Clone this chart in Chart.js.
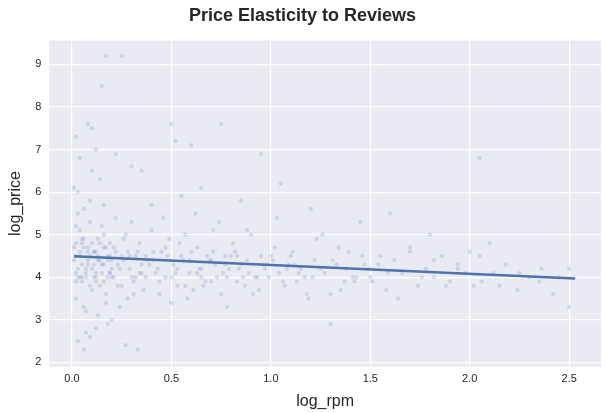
<!DOCTYPE html>
<html><head>
<script src="https://cdn.jsdelivr.net/npm/chart.js@4"></script>
<style>body{margin:0;background:#fff}#wrap{width:607px;height:413px}</style>
</head><body>
<div id="wrap"><canvas id="c"></canvas></div>
<script>
// scatter points (log_rpm, log_price)
var ptsX = [0.02,0.03,0.04,0.05,0.06,0.07,0.08,0.09,0.1,0.11,0.12,0.13,0.14,0.15,0.16,0.17,0.18,0.19,0.2,0.21,
0.02,0.03,0.05,0.06,0.08,0.09,0.11,0.12,0.14,0.15,0.17,0.19,0.21,0.23,0.25,0.27,0.29,0.31,0.33,0.35,
0.03,0.04,0.06,0.07,0.1,0.13,0.16,0.18,0.22,0.24,0.26,0.28,0.3,0.32,0.34,0.36,0.38,0.4,0.42,0.44,
0.45,0.47,0.49,0.51,0.53,0.55,0.57,0.59,0.61,0.63,0.65,0.67,0.69,0.71,0.73,0.75,0.77,0.79,0.81,0.83,
0.46,0.5,0.54,0.58,0.62,0.66,0.7,0.74,0.78,0.82,0.86,0.9,0.94,0.98,1.02,1.06,1.1,1.14,1.18,1.22,
0.85,0.88,0.91,0.95,0.99,1.03,1.07,1.11,1.15,1.19,1.23,1.27,1.31,1.35,1.39,1.43,1.47,1.51,1.55,1.59,
1.26,1.3,1.34,1.38,1.42,1.46,1.5,1.54,1.58,1.62,1.66,1.7,1.74,1.78,1.82,1.86,1.9,1.94,1.98,2.02,
1.64,1.7,1.76,1.82,1.88,1.94,2.0,2.06,2.12,2.18,2.24,2.3,2.36,2.42,2.5,2.05,2.15,2.25,2.35,2.45,
0.02,0.04,0.08,0.12,0.17,0.25,0.22,0.15,0.1,0.06,0.3,0.5,0.52,0.75,0.6,0.95,1.05,1.3,2.05,0.27,
0.01,0.03,0.07,0.12,0.2,0.35,0.4,0.55,0.65,0.85,1.2,1.45,1.6,1.8,2.1,2.5,0.02,0.09,0.14,0.33,
0.01,0.02,0.03,0.04,0.05,0.06,0.07,0.08,0.09,0.1,0.11,0.12,0.13,0.14,0.15,0.16,0.17,0.18,0.19,0.2,
0.01,0.02,0.04,0.05,0.07,0.08,0.1,0.11,0.13,0.16,0.18,0.2,0.22,0.24,0.26,0.28,0.3,0.32,0.34,0.37,
0.39,0.41,0.43,0.48,0.52,0.56,0.6,0.64,0.68,0.72,0.76,0.8,0.84,0.88,0.92,0.96,1.0,1.04,1.08,1.12,
0.23,0.29,0.35,0.41,0.47,0.53,0.59,0.65,0.71,0.77,0.83,0.89,0.97,1.01,1.09,1.17,1.25,1.33,1.41,1.49,
0.02,0.05,0.09,0.12,0.16,0.19,0.25,0.31,0.37,0.44,0.5,0.57,0.63,0.7,0.78,0.87,0.93,1.13,1.21,1.37];
var ptsY = [4.5,4.2,5.1,3.9,4.7,4.0,4.4,5.3,3.7,4.6,4.1,4.9,3.8,4.3,5.0,3.6,4.5,4.8,4.2,4.0,
3.5,5.5,4.8,3.3,4.3,5.8,4.6,3.9,4.4,5.2,3.4,4.1,4.7,3.8,4.5,5.0,4.2,3.6,4.6,4.3,
6.0,4.0,5.6,3.2,6.5,3.1,5.7,2.9,5.4,3.3,4.9,3.5,5.3,4.0,4.8,3.7,4.4,5.1,4.1,3.6,
4.6,4.0,4.9,4.3,3.8,4.5,5.0,4.1,3.7,4.7,4.2,3.9,4.4,5.1,4.0,3.6,4.5,4.2,4.8,3.9,
5.4,3.4,4.8,3.5,5.5,3.8,4.4,5.3,3.3,4.6,4.0,5.0,3.7,4.3,4.7,3.9,4.5,4.1,3.6,4.4,
4.3,5.1,3.6,4.5,4.0,5.4,3.8,4.6,4.2,3.5,4.9,4.1,4.4,3.7,4.6,4.0,4.3,3.9,4.5,4.1,
5.0,3.6,4.7,4.2,3.9,4.5,4.0,4.3,3.7,4.4,4.1,4.6,3.8,4.2,4.0,4.5,3.9,4.3,4.1,3.8,
3.5,4.7,4.0,4.4,3.8,4.2,4.6,3.9,4.1,4.3,3.7,4.0,4.2,3.6,3.3,4.5,3.8,4.1,3.9,4.0,
7.3,6.8,7.6,7.0,9.2,9.2,6.9,8.5,7.5,2.3,6.6,7.6,7.2,7.6,7.1,6.9,6.2,2.9,6.8,2.4,
6.1,2.5,2.7,2.8,3.0,6.5,5.7,5.9,6.1,5.8,5.6,5.3,5.5,5.0,4.8,4.2,5.2,2.6,6.3,2.3,
4.4,4.8,4.0,4.6,4.3,4.9,4.1,4.7,4.5,4.2,4.0,4.6,4.4,4.8,4.1,4.3,4.7,4.0,4.5,4.4,
4.7,4.1,4.5,4.9,4.2,4.6,4.8,4.3,4.5,4.7,4.4,4.0,4.6,4.2,4.4,4.6,4.0,4.5,4.1,4.5,
4.3,4.6,4.2,4.5,4.1,4.4,4.6,4.2,4.5,4.3,4.1,4.5,4.2,4.4,4.0,4.3,4.5,4.1,4.2,4.3,
4.3,4.5,4.1,4.4,4.7,4.2,4.4,4.0,4.6,4.3,4.5,4.1,4.2,4.4,4.3,4.0,4.2,4.3,4.0,4.2,
3.9,4.0,3.8,4.0,3.9,4.1,3.8,3.9,4.0,3.9,4.0,3.8,4.1,3.9,4.0,3.8,4.0,3.9,4.0,3.9];
var regX = [0.01, 2.53];
var regY = [4.49, 3.97];
var xTicks = [0, 0.5, 1.0, 1.5, 2.0, 2.5];
var yTicks = [2, 3, 4, 5, 6, 7, 8, 9];

var pts = ptsX.map(function (x, i) { return {x: x, y: ptsY[i]}; });
var reg = regX.map(function (x, i) { return {x: x, y: regY[i]}; });
var tickColor = '#262626';

new Chart(document.getElementById('c'), {
  type: 'scatter',
  data: {
    datasets: [
      {data: reg, type: 'line', borderColor: '#4c72b0', borderWidth: 2.5, pointRadius: 0, fill: false, order: 0},
      {data: pts, backgroundColor: 'rgba(76,114,176,0.2)', borderColor: 'rgba(255,255,255,0.3)', borderWidth: 0.5, pointRadius: 2.3, order: 1}
    ]
  },
  options: {
    responsive: true, maintainAspectRatio: false, animation: false,
    layout: {padding: {right: 6, bottom: 0, left: 4}},
    plugins: {
      legend: {display: false}, tooltip: {enabled: false},
      title: {display: true, text: 'Price Elasticity to Reviews', color: tickColor,
        font: {family: 'Arial, Liberation Sans', size: 18, weight: 'bold'}, padding: {top: 5, bottom: 14}}
    },
    scales: {
      x: {min: -0.114, max: 2.66, afterBuildTicks: function (a) { a.ticks = xTicks.map(function (v) { return {value: v}; }); },
        grid: {color: '#fff', lineWidth: 1.2, drawTicks: false}, border: {display: false},
        ticks: {color: tickColor, font: {family: 'Arial, Liberation Sans', size: 11}, padding: 6,
          callback: function (v) { return v.toFixed(1); }},
        title: {display: true, text: 'log_rpm', color: tickColor, font: {family: 'Arial, Liberation Sans', size: 16}, padding: {top: 0, bottom: 2}}},
      y: {min: 1.9, max: 9.56, afterBuildTicks: function (a) { a.ticks = yTicks.map(function (v) { return {value: v}; }); },
        grid: {color: '#fff', lineWidth: 1.2, drawTicks: false}, border: {display: false},
        ticks: {color: tickColor, font: {family: 'Arial, Liberation Sans', size: 11}, padding: 8},
        title: {display: true, text: 'log_price', color: tickColor, font: {family: 'Arial, Liberation Sans', size: 16}, padding: 2}}
    }
  },
  plugins: [{id: 'bg', beforeDraw: function (c) {
    var a = c.chartArea, g = c.ctx;
    g.save(); g.fillStyle = '#eaeaf2'; g.fillRect(a.left, a.top, a.right - a.left, a.bottom - a.top); g.restore();
  }}]
});
</script>
</body></html>
